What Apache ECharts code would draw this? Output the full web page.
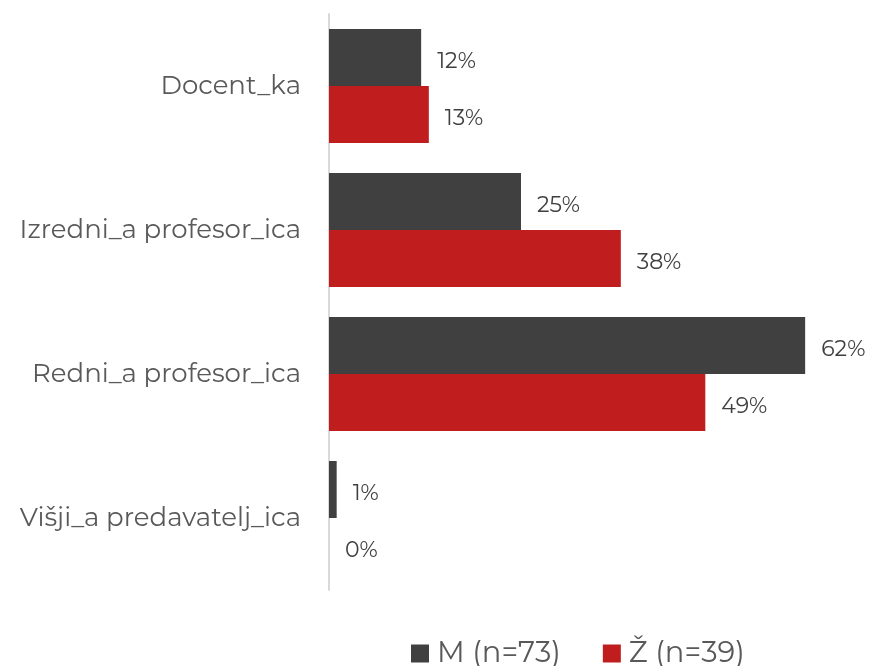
<!DOCTYPE html>
<html>
<head>
<meta charset="utf-8">
<script src="https://cdn.jsdelivr.net/npm/echarts@6/dist/echarts.min.js"></script>
<style>
  html, body { margin: 0; padding: 0; background: #fff; }
  #main { width: 870px; height: 666px; }
</style>
</head>
<body>
<div id="main"></div>
<script>
  // kategorije od zgoraj navzdol
  var categories = ['Docent_ka', 'Izredni_a profesor_ica', 'Redni_a profesor_ica', 'Višji_a predavatelj_ica'];
  var moski = [12, 25, 62, 1];
  var zenske = [13, 38, 49, 0];
  var seriesNames = ['M (n=73)', 'Ž (n=39)'];

  var chart = echarts.init(document.getElementById('main'));
  var font = 'Montserrat, "Noto Sans", "DejaVu Sans", sans-serif';

  var labelOpt = {
    show: true,
    position: 'right',
    distance: 16,
    offset: [0, 4],
    color: '#404040',
    fontSize: 22,
    fontFamily: font,
    formatter: '{c}%'
  };

  var option = {
    animation: false,
    grid: { left: 329, right: 3.4, top: 14, bottom: 76 },
    legend: {
      top: 634,
      left: 406,
      itemWidth: 18,
      itemHeight: 18,
      itemGap: 42,
      icon: 'rect',
      textStyle: { fontSize: 29, color: '#595959', fontFamily: font, padding: [0, 0, 0, 3] },
      data: seriesNames
    },
    xAxis: {
      type: 'value',
      min: 0,
      max: 70,
      show: false
    },
    yAxis: {
      type: 'category',
      inverse: true,
      data: categories,
      axisLine: { show: true, lineStyle: { color: '#d9d9d9', width: 2 } },
      axisTick: { show: false },
      axisLabel: { fontSize: 26, color: '#595959', margin: 28, fontFamily: font, padding: [4, 0, 0, 0] }
    },
    series: [
      {
        name: seriesNames[0],
        type: 'bar',
        data: moski,
        barWidth: 57,
        barGap: '0%',
        barCategoryGap: '20.8%',
        itemStyle: { color: '#404040' },
        label: labelOpt
      },
      {
        name: seriesNames[1],
        type: 'bar',
        data: zenske,
        barWidth: 57,
        itemStyle: { color: '#c01e1e' },
        label: labelOpt
      }
    ]
  };

  chart.setOption(option);
</script>
</body>
</html>
